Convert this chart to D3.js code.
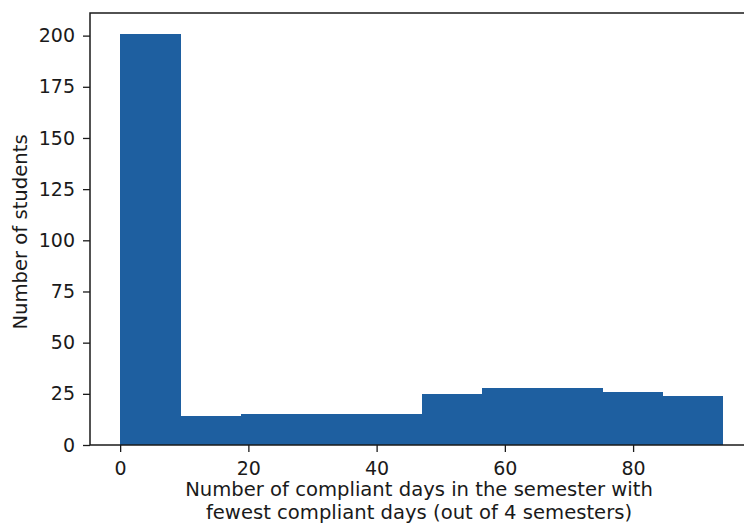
<!DOCTYPE html>
<html>
<head>
<meta charset="utf-8">
<script src="https://cdn.jsdelivr.net/npm/d3@7"></script>
<style>
  html, body { margin: 0; padding: 0; background: #fff; }
  svg { display: block; }
  text { font-family: "DejaVu Sans", sans-serif; fill: #1a1a1a; }
</style>
</head>
<body>
<div id="chart"></div>
<script>
// ---- data ----
const binEdges = [0, 9.4, 18.8, 28.2, 37.6, 47, 56.4, 65.8, 75.2, 84.6, 94];
const counts = [201, 14, 15, 15, 15, 25, 28, 28, 26, 24];
const xTicks = [0, 20, 40, 60, 80];
const yTicks = [0, 25, 50, 75, 100, 125, 150, 175, 200];
const xLabelLines = ["Number of compliant days in the semester with", "fewest compliant days (out of 4 semesters)"];
const yLabel = "Number of students";

// ---- layout ----
const W = 744, H = 524;
const plot = { left: 90, right: 753, top: 13, bottom: 445 };
const barColor = "#1e5fa0";
const tickFont = 19;
const labelFont = 19.6;

const svg = d3.select("#chart").append("svg").attr("width", W).attr("height", H);

const x = d3.scaleLinear().domain([-4.7, 98.7]).range([plot.left, plot.right]);
const y = d3.scaleLinear().domain([0, 211.05]).range([plot.bottom, plot.top]);

const bins = counts.map((c, i) => ({ x0: binEdges[i], x1: binEdges[i + 1], n: c }));

svg.append("g").attr("shape-rendering", "crispEdges").selectAll("rect").data(bins).join("rect")
  .attr("x", d => x(d.x0))
  .attr("width", d => x(d.x1) - x(d.x0) + 0.5)
  .attr("y", d => y(d.n))
  .attr("height", d => y(0) - y(d.n))
  .attr("fill", barColor);

// axes
const xAxis = d3.axisBottom(x).tickValues(xTicks).tickSize(7).tickPadding(10).tickFormat(d3.format("d"));
const yAxis = d3.axisLeft(y).tickValues(yTicks).tickSize(7).tickPadding(8).tickFormat(d3.format("d"));

const gx = svg.append("g").attr("transform", `translate(0,${plot.bottom})`).call(xAxis);
const gy = svg.append("g").attr("transform", `translate(${plot.left},0)`).call(yAxis);
[gx, gy].forEach(g => {
  g.select(".domain").remove();
  g.selectAll(".tick line").attr("stroke", "#1a1a1a").attr("stroke-width", 1.3);
  g.selectAll(".tick text").attr("font-size", tickFont).attr("font-family", "DejaVu Sans, sans-serif").attr("fill", "#1a1a1a");
});

// spines
const spines = svg.append("g").attr("fill", "none").attr("stroke", "#1a1a1a").attr("stroke-width", 1.5);
spines.append("rect")
  .attr("x", plot.left).attr("y", plot.top)
  .attr("width", plot.right - plot.left).attr("height", plot.bottom - plot.top);

// labels (one text per line)
xLabelLines.forEach((t, i) => {
  svg.append("text")
    .attr("text-anchor", "middle")
    .attr("font-size", labelFont)
    .attr("x", 419).attr("y", 496 + i * 23)
    .text(t);
});

svg.append("text")
  .attr("text-anchor", "middle")
  .attr("font-size", labelFont)
  .attr("transform", `translate(27,232) rotate(-90)`)
  .text(yLabel);
</script>
</body>
</html>
